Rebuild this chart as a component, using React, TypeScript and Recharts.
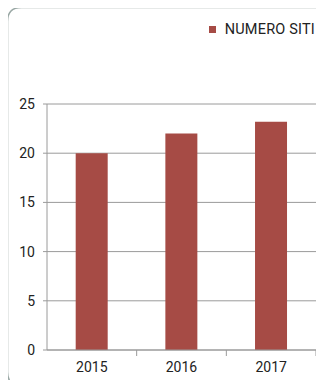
import { BarChart, Bar, XAxis, YAxis, CartesianGrid, Legend } from "recharts";

const years = ["2015", "2016", "2017"];
const siti = [20, 22, 23.2];
const yTicks = [0, 5, 10, 15, 20, 25];

const data = years.map((year, i) => ({ year, siti: siti[i] }));

const BAR = "#a64b45";
const AXIS = "#9a9a9a";
const FONT = "Roboto, 'Noto Sans', sans-serif";

function YearTick(props: any) {
  const { x, y, payload } = props;
  const half = payload && payload.offset ? payload.offset : 45;
  return (
    <g>
      <line x1={x + half} y1={y - 8} x2={x + half} y2={y - 2} stroke={AXIS} strokeWidth={1} />
      <text x={x} y={y + 14} textAnchor="middle" fill="#222" fontSize={14} fontFamily={FONT}>
        {payload.value}
      </text>
    </g>
  );
}

function LegendBox() {
  return (
    <div
      style={{
        display: "flex",
        justifyContent: "flex-end",
        alignItems: "center",
        fontFamily: FONT,
        fontSize: 14.5,
        letterSpacing: 0.2,
        color: "#222",
        whiteSpace: "nowrap",
        width: 315,
      }}
    >
      <span style={{ width: 7, height: 7, background: BAR, marginRight: 9 }} />
      <span>NUMERO SITI</span>
    </div>
  );
}

export default function App() {
  return (
    <div style={{ position: "relative", margin: -8, width: 324, height: 388, overflow: "hidden", background: "#fff" }}>
      <svg
        width={324}
        height={388}
        style={{ position: "absolute", left: 0, top: 0, pointerEvents: "none" }}
      >
        <path
          d="M 340 7.5 L 21.5 7.5 Q 7.5 7.5 7.5 21.5 L 7.5 372 Q 7.5 386 21.5 386 L 340 386"
          fill="none"
          stroke="#9aa8a5"
          strokeWidth={1.5}
        />
      </svg>
      <div style={{ position: "relative" }}>
        <BarChart
          width={324}
          height={388}
          data={data}
          margin={{ top: 87, right: 8, bottom: 8, left: 0 }}
          barCategoryGap="32%"
        >
          <Legend
            verticalAlign="top"
            align="right"
            content={() => <LegendBox />}
            wrapperStyle={{ position: "absolute", top: 21, left: 0, width: 324 }}
          />
          <CartesianGrid vertical={false} stroke={AXIS} strokeWidth={1} />
          <XAxis
            dataKey="year"
            axisLine={{ stroke: AXIS }}
            tickLine={false}
            height={30}
            tick={<YearTick />}
            interval={0}
          />
          <YAxis
            domain={[0, 25]}
            ticks={yTicks}
            width={47}
            axisLine={{ stroke: AXIS }}
            tickLine={{ stroke: AXIS }}
            tickSize={4}
            tickMargin={8}
            tick={{ fill: "#222", fontSize: 14, fontFamily: FONT }}
          />
          <Bar dataKey="siti" name="NUMERO SITI" fill={BAR} isAnimationActive={false} />
        </BarChart>
      </div>
    </div>
  );
}
